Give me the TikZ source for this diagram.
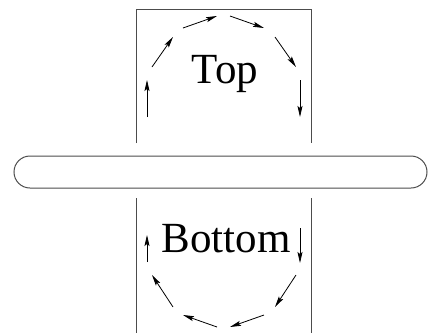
\documentclass[tikz,border=0pt]{standalone}
\usepackage{fontspec}
\setmainfont{Liberation Serif}
\usetikzlibrary{arrows.meta}
\begin{document}
\begin{tikzpicture}[x=1pt,y=-1pt,
  wall/.style={draw=black!70,line width=1pt},
  flow/.style={draw=black,line width=0.8pt,-{Stealth[length=11pt,width=5pt,inset=2pt]}},
  lbl/.style={font=\fontsize{43}{43}\selectfont,inner sep=0pt,anchor=base}]
\useasboundingbox (0,0) rectangle (429,333);
% top box (open at bottom)
\coordinate (tl) at (136,143);
\coordinate (tr) at (311,143);
\draw[wall] (tl) -- (136,9) -- (311,9) -- (tr);
% bottom box (open at bottom)
\coordinate (bl1) at (136,198);
\coordinate (bl2) at (136,333);
\coordinate (br1) at (311,198);
\coordinate (br2) at (311,333);
\draw[wall] (bl1) -- (bl2);
\draw[wall] (br1) -- (br2);
% bar
\draw[wall,rounded corners=16pt] (14,156) rectangle (427,188);
% labels
\node[lbl] (top) at (225,83) {Top};
\node[lbl] (bottom) at (226,252) {Bottom};
% top flow arrows
\coordinate (a1) at (147,117); \coordinate (a2) at (147,80);
\coordinate (b1) at (152,67);  \coordinate (b2) at (173,37);
\coordinate (c1) at (183,28);  \coordinate (c2) at (217,16);
\coordinate (d1) at (230,16);  \coordinate (d2) at (264,28);
\coordinate (e1) at (275,37);  \coordinate (e2) at (296,67);
\coordinate (f1) at (300,80);  \coordinate (f2) at (300,117);
\draw[flow] (a1) -- (a2);
\draw[flow] (b1) -- (b2);
\draw[flow] (c1) -- (c2);
\draw[flow] (d1) -- (d2);
\draw[flow] (e1) -- (e2);
\draw[flow] (f1) -- (f2);
% bottom flow arrows
\coordinate (g1) at (300,228); \coordinate (g2) at (300,263);
\coordinate (h1) at (296,275); \coordinate (h2) at (275,307);
\coordinate (i1) at (264,315); \coordinate (i2) at (230,327);
\coordinate (j1) at (217,327); \coordinate (j2) at (183,315);
\coordinate (k1) at (173,307); \coordinate (k2) at (152,275);
\coordinate (m1) at (147,262); \coordinate (m2) at (147,235);
\draw[flow] (g1) -- (g2);
\draw[flow] (h1) -- (h2);
\draw[flow] (i1) -- (i2);
\draw[flow] (j1) -- (j2);
\draw[flow] (k1) -- (k2);
\draw[flow] (m1) -- (m2);
\end{tikzpicture}
\end{document}
